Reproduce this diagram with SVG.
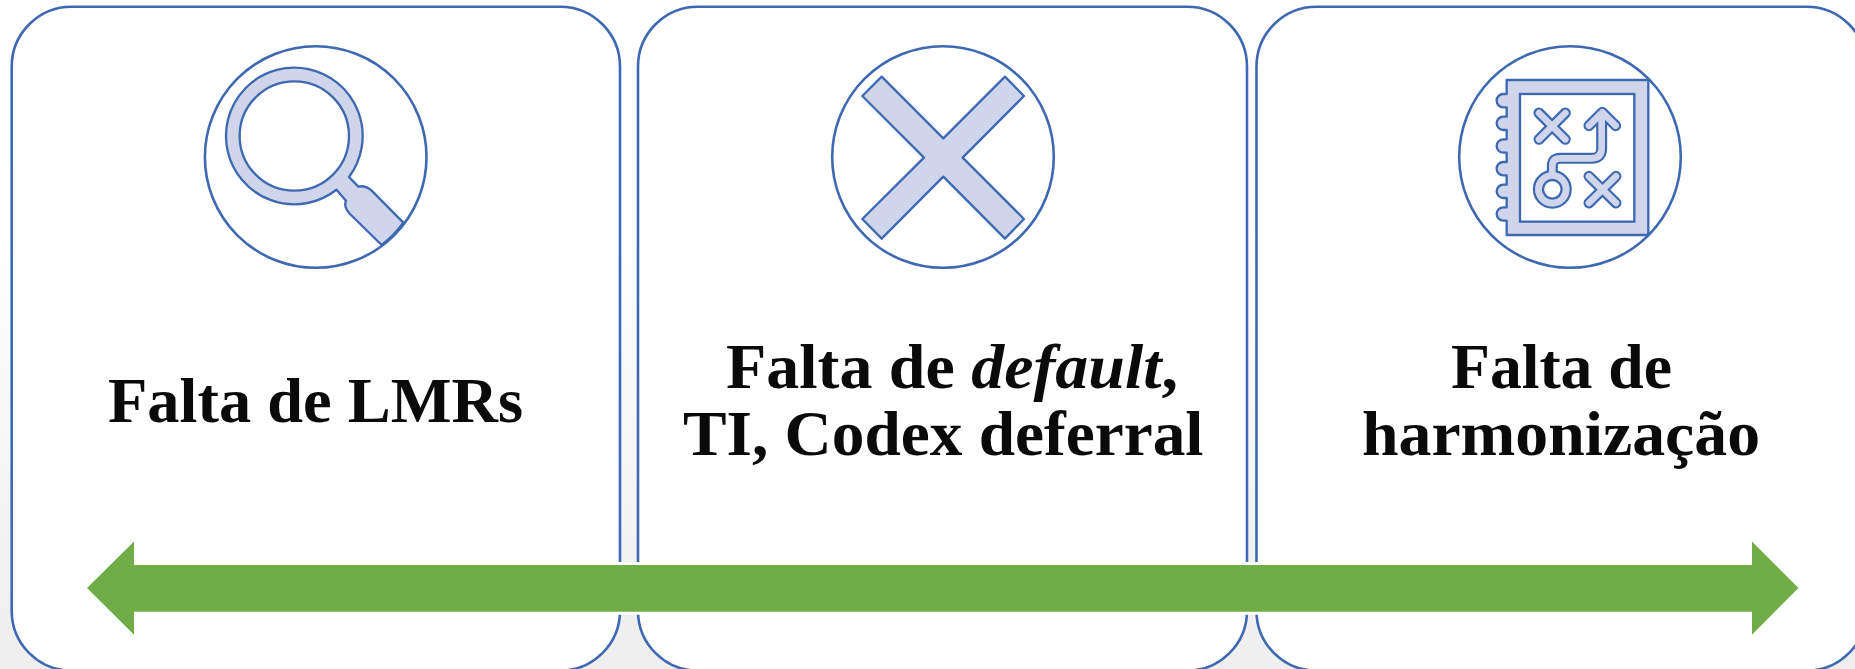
<svg xmlns="http://www.w3.org/2000/svg" width="1855" height="669" viewBox="0 0 1855 669">
<style>
.box{fill:#fff;stroke:#3e69b2;stroke-width:2.6}
.disc{fill:#fff;stroke:#3e69b2;stroke-width:2.6}
.icon{fill:#cfd5ea;stroke:#3e69b2;stroke-width:7;stroke-linejoin:round}
.hole{fill:#fff;stroke:#3e69b2;stroke-width:7}
.ol{fill:none;stroke:#3e69b2;stroke-width:33;stroke-linecap:round;stroke-linejoin:round}
.il{fill:none;stroke:#cfd5ea;stroke-width:20;stroke-linecap:round;stroke-linejoin:round}
.label{font-family:"Liberation Serif","Times New Roman",serif;font-weight:700;font-size:64px;fill:#0a0a0a}
.em{font-style:italic}
</style>
<defs>
<linearGradient id="bg" x1="0" y1="0" x2="0" y2="1">
<stop offset="0" stop-color="#fff"/><stop offset="0.35" stop-color="#fff"/><stop offset="0.8" stop-color="#f3f3f3"/><stop offset="1" stop-color="#eee"/>
</linearGradient>
<path id="marks" d="M297,249 L376,328 M376,249 L297,328 M447,439 L528,519 M528,439 L447,519 M337,430 V408 Q337,385 360,385 H455 Q485,385 485,355 V250 M447,287 L487,247 L527,287"/>
</defs>
<rect width="1855" height="669" fill="url(#bg)"/>
<g id="node-lmrs">
<rect class="box" x="11.7" y="6.7" width="608.3" height="664" rx="60" ry="60"/>
<circle class="disc" cx="315.7" cy="157" r="110.8"/>
<g transform="translate(180 30) scale(.3333)">
<path class="icon" d="M507,441 L535,470 Q555,465 575,482 L670,578 A335,335 0 0 1 605,645 L510,552 Q490,530 498,512 L469.4,479.4 A205,205 0 1 1 507,441 Z"/>
<circle class="hole" cx="343" cy="318" r="164"/>
</g>
<text class="label" x="108" y="421.7" textLength="415" lengthAdjust="spacingAndGlyphs">Falta de LMRs</text>
</g>
<g id="node-default">
<rect class="box" x="638" y="6.7" width="609" height="664" rx="60" ry="60"/>
<circle class="disc" cx="943" cy="157" r="110.8"/>
<g transform="translate(820 30) scale(.3333)">
<path class="icon" d="M185,140 L370,325 L555,140 L612,198 L428,383 L612,567 L555,626 L370,440 L185,626 L127,567 L312,383 L127,198 Z"/>
</g>
<text class="label" x="726" y="388" textLength="452" lengthAdjust="spacingAndGlyphs">Falta de <tspan class="em">default</tspan>,</text>
<text class="label" x="683" y="455" textLength="520.5" lengthAdjust="spacingAndGlyphs">TI, Codex deferral</text>
</g>
<g id="node-harmonizacao">
<rect class="box" x="1256.5" y="6.7" width="610" height="664" rx="60" ry="60"/>
<circle class="disc" cx="1570" cy="157" r="110.8"/>
<g transform="translate(1440 30) scale(.3333)">
<path class="icon" d="M200,150 H625 V615 H200 V572 H190 a20,20 0 0 1 0,-40 H200 V504 H190 a20,20 0 0 1 0,-40 H200 V436 H190 a20,20 0 0 1 0,-40 H200 V368 H190 a20,20 0 0 1 0,-40 H200 V300 H190 a20,20 0 0 1 0,-40 H200 V232 H190 a20,20 0 0 1 0,-40 H200 Z"/>
<rect class="hole" x="240" y="192" width="343" height="383"/>
<use href="#marks" class="ol"/>
<circle class="icon" cx="337" cy="478" r="55"/>
<use href="#marks" class="il"/>
<circle class="icon" cx="337" cy="478" r="51" style="stroke:none"/>
<circle class="hole" cx="337" cy="478" r="28"/>
</g>
<text class="label" x="1451" y="388" textLength="221" lengthAdjust="spacingAndGlyphs">Falta de</text>
<text class="label" x="1362" y="455" textLength="398" lengthAdjust="spacingAndGlyphs">harmonização</text>
</g>
<g id="connectors">
<path d="M87,588 L134,541.5 V565 H1752 V541.5 L1798.5,588 L1752,634.7 V611.7 H134 V634.7 Z" fill="#70ad47" stroke="#fff" stroke-width="6" paint-order="stroke"/>
</g>
</svg>
